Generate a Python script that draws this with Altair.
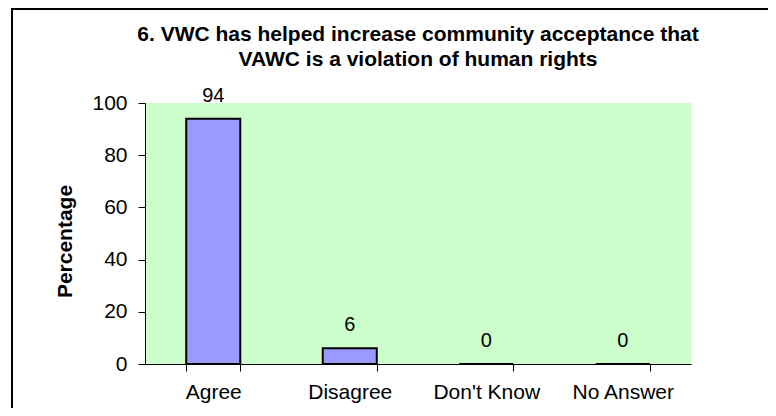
import altair as alt
import pandas as pd

categories = ["Agree", "Disagree", "Don't Know", "No Answer"]
values = [94, 6, 0, 0]
title_lines = ["6. VWC has helped increase community acceptance that",
               "VAWC is a violation of human rights"]
y_title = "Percentage"

df = pd.DataFrame({"cat": categories, "val": values})
FONT = "Liberation Sans"

x = alt.X("cat:N", sort=categories,
          scale=alt.Scale(paddingInner=0.604, paddingOuter=0.302),
          axis=alt.Axis(title=None, labelAngle=0, tickBand="extent",
                        labelFontSize=21, labelColor="black", labelFont=FONT,
                        tickSize=7, tickColor="black", domainColor="black",
                        labelPadding=10))
y = alt.Y("val:Q", scale=alt.Scale(domain=[0, 100]),
          axis=alt.Axis(title=y_title, values=[0, 20, 40, 60, 80, 100], grid=False,
                        labelFontSize=21, labelColor="black", labelFont=FONT,
                        tickSize=7, tickColor="black", domainColor="black",
                        labelPadding=11, titleFontSize=21, titleFont=FONT,
                        titleFontWeight="bold", titleColor="black", titlePadding=16,
                        titleY=138))

base = alt.Chart(df)
bars = base.mark_bar(fill="#9999FF", stroke="black", strokeWidth=2).encode(x=x, y=y)
labels = base.mark_text(dy=-23, fontSize=20, font=FONT, color="black",
                        baseline="middle").encode(x=x, y=y, text="val:Q")

frame = alt.Chart(pd.DataFrame({"a": [0]})).mark_rect(
    fillOpacity=0, stroke="black", strokeWidth=2).encode(
    x=alt.value(-133), x2=alt.value(700), y=alt.value(-94), y2=alt.value(450))

chart = alt.layer(bars, labels, frame).properties(
    width=546, height=261,
    background="white",
    autosize=alt.AutoSizeParams(type="none"),
    padding={"left": 137, "top": 95, "right": 77, "bottom": 44},
    title=alt.TitleParams(text=title_lines, fontSize=21, fontWeight="bold", font=FONT,
                          color="black", anchor="middle", lineHeight=25, offset=-62),
).configure_view(fill="#CCFFCC", strokeWidth=0)

chart.save("out.html", embed_options={"renderer": "svg", "actions": False})
